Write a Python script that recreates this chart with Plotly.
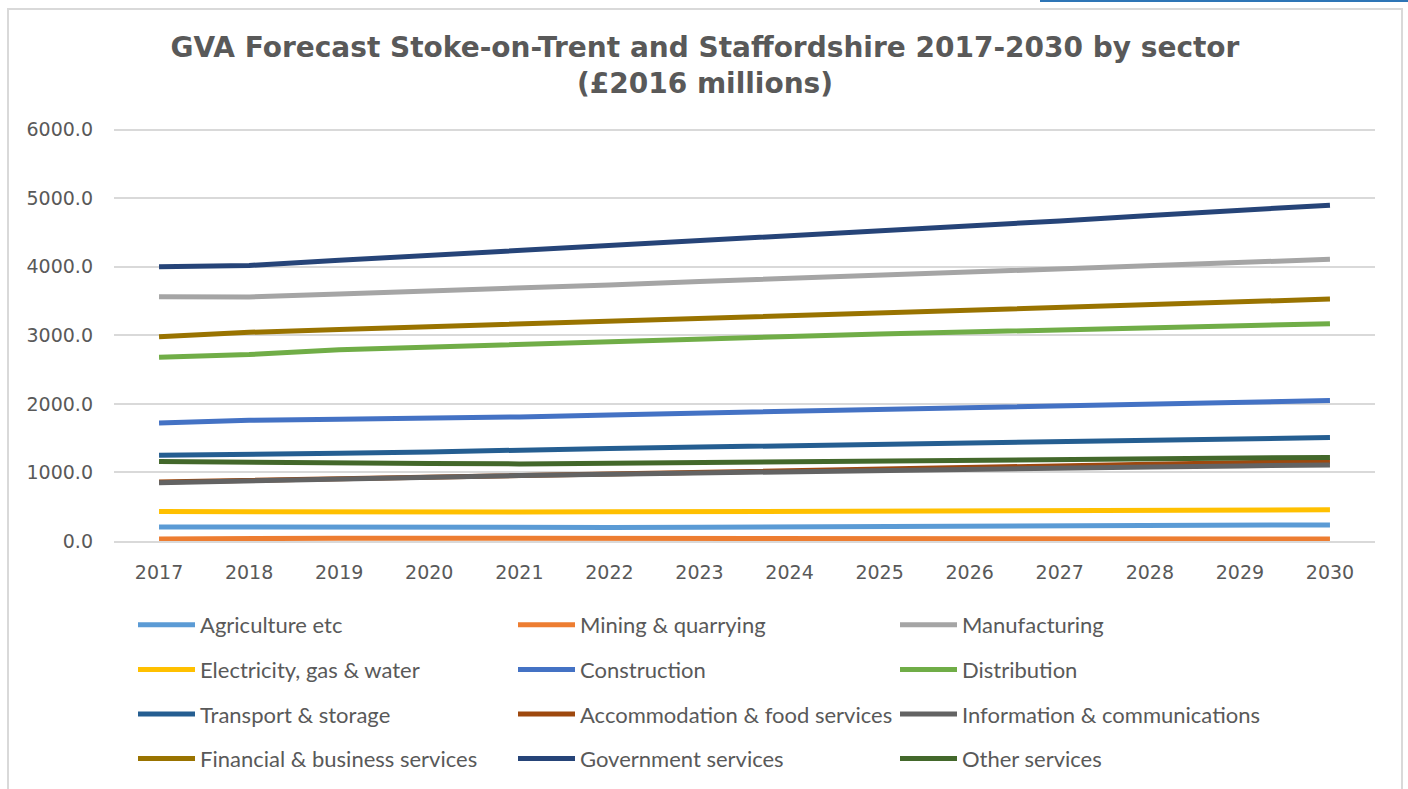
import plotly.graph_objects as go

years = [str(y) for y in range(2017, 2031)]

agriculture = [205, 200, 195, 193, 195, 198, 202, 206, 210, 214, 218, 223, 228, 235]
mining = [30, 40, 40, 40, 40, 40, 38, 36, 35, 34, 33, 32, 31, 30]
manufacturing = [3565, 3560, 3605, 3645, 3690, 3735, 3785, 3830, 3875, 3925, 3970, 4020, 4065, 4110]
electricity = [430, 425, 420, 420, 422, 425, 428, 430, 433, 437, 440, 445, 450, 455]
construction = [1720, 1760, 1775, 1790, 1810, 1840, 1865, 1890, 1915, 1940, 1965, 1990, 2020, 2050]
distribution = [2680, 2720, 2790, 2830, 2880, 2915, 2950, 2985, 3020, 3050, 3080, 3110, 3140, 3170]
transport = [1250, 1260, 1280, 1300, 1330, 1350, 1370, 1390, 1410, 1430, 1450, 1470, 1490, 1510]
accommodation = [860, 885, 910, 935, 960, 985, 1010, 1035, 1060, 1080, 1100, 1120, 1140, 1160]
information = [850, 880, 905, 930, 955, 975, 995, 1015, 1035, 1050, 1065, 1080, 1095, 1110]
financial = [2980, 3045, 3085, 3125, 3160, 3200, 3240, 3280, 3320, 3360, 3400, 3440, 3485, 3530]
government = [4000, 4020, 4095, 4165, 4235, 4305, 4380, 4450, 4525, 4600, 4670, 4750, 4825, 4900]
other = [1160, 1145, 1140, 1130, 1125, 1135, 1150, 1160, 1170, 1180, 1190, 1200, 1210, 1220]

y_ticks = [0, 1000, 2000, 3000, 4000, 5000, 6000]

# (name, values, colour, legend column)
series = [
    ("Agriculture etc", agriculture, "#5B9BD5", "legend"),
    ("Mining & quarrying", mining, "#ED7D31", "legend2"),
    ("Manufacturing", manufacturing, "#A5A5A5", "legend3"),
    ("Electricity, gas & water", electricity, "#FFC000", "legend"),
    ("Construction", construction, "#4472C4", "legend2"),
    ("Distribution", distribution, "#70AD47", "legend3"),
    ("Transport & storage", transport, "#255E91", "legend"),
    ("Accommodation & food services", accommodation, "#9E480E", "legend2"),
    ("Information & communications", information, "#636363", "legend3"),
    ("Financial & business services", financial, "#997300", "legend"),
    ("Government services", government, "#264478", "legend2"),
    ("Other services", other, "#43682B", "legend3"),
]

fig = go.Figure()
for i, (name, vals, col, leg) in enumerate(series):
    fig.add_trace(go.Scatter(
        x=years, y=vals, name=name, mode="lines",
        line=dict(color=col, width=5),
        legend=leg, legendgroup=f"g{i}",
    ))

W, H = 1408, 789
# plot area in pixels; the top edge sits a little above the 6000 gridline
L, R, T, B = 114, 1375, 127, 541
pw, ph = R - L, B - T

def px(x):
    return (x - L) / pw

def py(y):
    return (B - y) / ph

grey = "#595959"
legend_font = dict(family="Lato, Open Sans, sans-serif", size=22, color=grey)
legend_common = dict(
    orientation="v", font=legend_font, bgcolor="rgba(0,0,0,0)",
    tracegroupgap=13, itemwidth=57, xanchor="left", yanchor="top",
    itemclick=False, itemdoubleclick=False,
)

fig.update_layout(
    width=W, height=H,
    margin=dict(l=L, r=W - R, t=T, b=H - B, pad=0, autoexpand=False),
    paper_bgcolor="white", plot_bgcolor="white",
    title=dict(
        text="GVA Forecast Stoke-on-Trent and Staffordshire 2017-2030 by sector<br>(£2016 millions)",
        font=dict(family="DejaVu Sans", size=28, color=grey, weight="bold"),
        x=705 / W, xanchor="center", y=1 - 57 / H, yanchor="middle",
    ),
    xaxis=dict(
        type="category", range=[-0.5, 13.5],
        showgrid=False, showline=True, linecolor="#D9D9D9", linewidth=1.5,
        ticks="", tickfont=dict(family="DejaVu Sans", size=19, color=grey),
        ticklabelstandoff=13,
    ),
    yaxis=dict(
        range=[0, 6040], tickvals=y_ticks, tickformat=".1f",
        showgrid=True, gridcolor="#D9D9D9", gridwidth=1.5, zeroline=False,
        showline=False, ticks="",
        tickfont=dict(family="DejaVu Sans", size=19, color=grey),
        ticklabelstandoff=20,
    ),
    legend=dict(x=px(133), y=py(604), **legend_common),
    legend2=dict(x=px(513), y=py(604), **legend_common),
    legend3=dict(x=px(895), y=py(604), **legend_common),
    shapes=[
        dict(type="rect", xref="paper", yref="paper",
             x0=px(8), x1=px(1402), y0=py(800), y1=py(9),
             line=dict(color="#D9D9D9", width=2), fillcolor="rgba(0,0,0,0)", layer="below"),
        dict(type="rect", xref="paper", yref="paper",
             x0=px(1040), x1=px(1410), y0=py(2), y1=py(-2),
             line=dict(width=0), fillcolor="#2E75B6", layer="above"),
    ],
    showlegend=True,
)

fig.write_html("out.html")
